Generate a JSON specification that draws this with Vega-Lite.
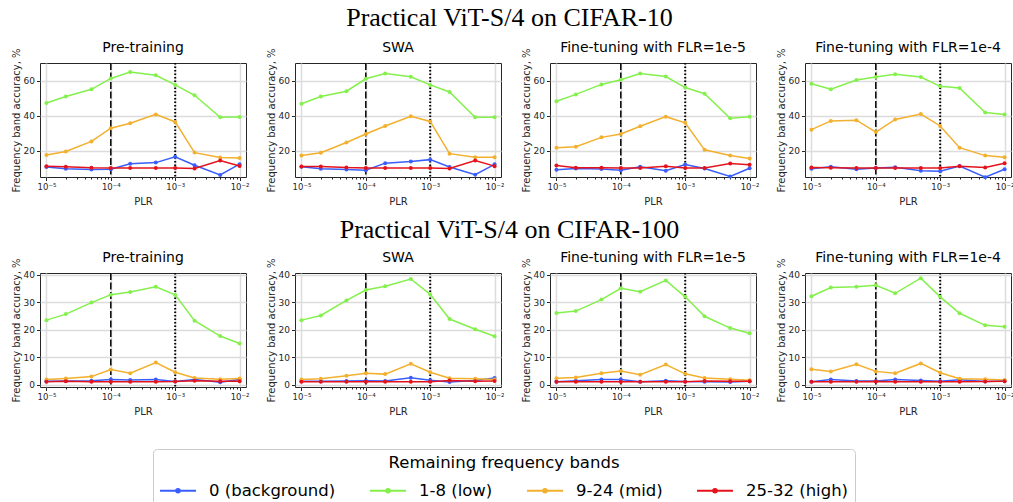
{
"$schema":"https://vega.github.io/schema/vega-lite/v6.json",
"padding":{"left":10,"top":4,"right":0,"bottom":5},
"datasets":{
"c10pre":[
{"x":0.00001,"b":"0 (background)","y":10.7},{"x":0.00002,"b":"0 (background)","y":9.7},{"x":0.00005,"b":"0 (background)","y":9.3},{"x":0.0001,"b":"0 (background)","y":9.4},{"x":0.0002,"b":"0 (background)","y":12.5},{"x":0.0005,"b":"0 (background)","y":13.2},{"x":0.001,"b":"0 (background)","y":16.5},{"x":0.002,"b":"0 (background)","y":11.7},{"x":0.005,"b":"0 (background)","y":6.2},{"x":0.01,"b":"0 (background)","y":12.3},
{"x":0.00001,"b":"1-8 (low)","y":47.2},{"x":0.00002,"b":"1-8 (low)","y":50.9},{"x":0.00005,"b":"1-8 (low)","y":55.0},{"x":0.0001,"b":"1-8 (low)","y":61.2},{"x":0.0002,"b":"1-8 (low)","y":64.9},{"x":0.0005,"b":"1-8 (low)","y":63.0},{"x":0.001,"b":"1-8 (low)","y":57.5},{"x":0.002,"b":"1-8 (low)","y":51.6},{"x":0.005,"b":"1-8 (low)","y":39.0},{"x":0.01,"b":"1-8 (low)","y":39.2},
{"x":0.00001,"b":"9-24 (mid)","y":17.5},{"x":0.00002,"b":"9-24 (mid)","y":19.5},{"x":0.00005,"b":"9-24 (mid)","y":25.3},{"x":0.0001,"b":"9-24 (mid)","y":32.8},{"x":0.0002,"b":"9-24 (mid)","y":35.7},{"x":0.0005,"b":"9-24 (mid)","y":40.7},{"x":0.001,"b":"9-24 (mid)","y":36.4},{"x":0.002,"b":"9-24 (mid)","y":18.9},{"x":0.005,"b":"9-24 (mid)","y":16.1},{"x":0.01,"b":"9-24 (mid)","y":15.9},
{"x":0.00001,"b":"25-32 (high)","y":11.1},{"x":0.00002,"b":"25-32 (high)","y":10.8},{"x":0.00005,"b":"25-32 (high)","y":10.3},{"x":0.0001,"b":"25-32 (high)","y":10.2},{"x":0.0002,"b":"25-32 (high)","y":10.2},{"x":0.0005,"b":"25-32 (high)","y":10.2},{"x":0.001,"b":"25-32 (high)","y":10.2},{"x":0.002,"b":"25-32 (high)","y":9.8},{"x":0.005,"b":"25-32 (high)","y":14.4},{"x":0.01,"b":"25-32 (high)","y":11.3}],
"c10swa":[
{"x":0.00001,"b":"0 (background)","y":10.8},{"x":0.00002,"b":"0 (background)","y":9.7},{"x":0.00005,"b":"0 (background)","y":9.3},{"x":0.0001,"b":"0 (background)","y":8.9},{"x":0.0002,"b":"0 (background)","y":12.9},{"x":0.0005,"b":"0 (background)","y":13.9},{"x":0.001,"b":"0 (background)","y":14.9},{"x":0.002,"b":"0 (background)","y":10.7},{"x":0.005,"b":"0 (background)","y":6.3},{"x":0.01,"b":"0 (background)","y":12.2},
{"x":0.00001,"b":"1-8 (low)","y":46.8},{"x":0.00002,"b":"1-8 (low)","y":50.9},{"x":0.00005,"b":"1-8 (low)","y":53.9},{"x":0.0001,"b":"1-8 (low)","y":61.0},{"x":0.0002,"b":"1-8 (low)","y":64.0},{"x":0.0005,"b":"1-8 (low)","y":62.1},{"x":0.001,"b":"1-8 (low)","y":57.5},{"x":0.002,"b":"1-8 (low)","y":53.5},{"x":0.005,"b":"1-8 (low)","y":39.1},{"x":0.01,"b":"1-8 (low)","y":39.1},
{"x":0.00001,"b":"9-24 (mid)","y":17.3},{"x":0.00002,"b":"9-24 (mid)","y":18.8},{"x":0.00005,"b":"9-24 (mid)","y":24.7},{"x":0.0001,"b":"9-24 (mid)","y":29.5},{"x":0.0002,"b":"9-24 (mid)","y":34.1},{"x":0.0005,"b":"9-24 (mid)","y":39.6},{"x":0.001,"b":"9-24 (mid)","y":36.7},{"x":0.002,"b":"9-24 (mid)","y":18.3},{"x":0.005,"b":"9-24 (mid)","y":16.3},{"x":0.01,"b":"9-24 (mid)","y":16.2},
{"x":0.00001,"b":"25-32 (high)","y":11.0},{"x":0.00002,"b":"25-32 (high)","y":11.0},{"x":0.00005,"b":"25-32 (high)","y":10.4},{"x":0.0001,"b":"25-32 (high)","y":10.2},{"x":0.0002,"b":"25-32 (high)","y":10.2},{"x":0.0005,"b":"25-32 (high)","y":10.2},{"x":0.001,"b":"25-32 (high)","y":10.2},{"x":0.002,"b":"25-32 (high)","y":9.9},{"x":0.005,"b":"25-32 (high)","y":14.4},{"x":0.01,"b":"25-32 (high)","y":11.2}],
"c10f5":[
{"x":0.00001,"b":"0 (background)","y":9.1},{"x":0.00002,"b":"0 (background)","y":9.8},{"x":0.00005,"b":"0 (background)","y":9.6},{"x":0.0001,"b":"0 (background)","y":8.9},{"x":0.0002,"b":"0 (background)","y":10.9},{"x":0.0005,"b":"0 (background)","y":8.6},{"x":0.001,"b":"0 (background)","y":12.1},{"x":0.002,"b":"0 (background)","y":9.8},{"x":0.005,"b":"0 (background)","y":5.3},{"x":0.01,"b":"0 (background)","y":10.0},
{"x":0.00001,"b":"1-8 (low)","y":48.2},{"x":0.00002,"b":"1-8 (low)","y":52.1},{"x":0.00005,"b":"1-8 (low)","y":57.8},{"x":0.0001,"b":"1-8 (low)","y":60.4},{"x":0.0002,"b":"1-8 (low)","y":64.0},{"x":0.0005,"b":"1-8 (low)","y":62.3},{"x":0.001,"b":"1-8 (low)","y":56.0},{"x":0.002,"b":"1-8 (low)","y":52.5},{"x":0.005,"b":"1-8 (low)","y":38.5},{"x":0.01,"b":"1-8 (low)","y":39.4},
{"x":0.00001,"b":"9-24 (mid)","y":21.7},{"x":0.00002,"b":"9-24 (mid)","y":22.3},{"x":0.00005,"b":"9-24 (mid)","y":27.6},{"x":0.0001,"b":"9-24 (mid)","y":29.5},{"x":0.0002,"b":"9-24 (mid)","y":33.9},{"x":0.0005,"b":"9-24 (mid)","y":39.4},{"x":0.001,"b":"9-24 (mid)","y":35.9},{"x":0.002,"b":"9-24 (mid)","y":20.5},{"x":0.005,"b":"9-24 (mid)","y":17.2},{"x":0.01,"b":"9-24 (mid)","y":15.6},
{"x":0.00001,"b":"25-32 (high)","y":11.5},{"x":0.00002,"b":"25-32 (high)","y":10.3},{"x":0.00005,"b":"25-32 (high)","y":10.3},{"x":0.0001,"b":"25-32 (high)","y":10.2},{"x":0.0002,"b":"25-32 (high)","y":10.2},{"x":0.0005,"b":"25-32 (high)","y":11.1},{"x":0.001,"b":"25-32 (high)","y":10.2},{"x":0.002,"b":"25-32 (high)","y":10.1},{"x":0.005,"b":"25-32 (high)","y":12.7},{"x":0.01,"b":"25-32 (high)","y":12.0}],
"c10f4":[
{"x":0.00001,"b":"0 (background)","y":9.7},{"x":0.00002,"b":"0 (background)","y":10.8},{"x":0.00005,"b":"0 (background)","y":9.4},{"x":0.0001,"b":"0 (background)","y":10.2},{"x":0.0002,"b":"0 (background)","y":10.6},{"x":0.0005,"b":"0 (background)","y":8.5},{"x":0.001,"b":"0 (background)","y":8.3},{"x":0.002,"b":"0 (background)","y":11.3},{"x":0.005,"b":"0 (background)","y":4.9},{"x":0.01,"b":"0 (background)","y":9.4},
{"x":0.00001,"b":"1-8 (low)","y":58.2},{"x":0.00002,"b":"1-8 (low)","y":55.0},{"x":0.00005,"b":"1-8 (low)","y":60.3},{"x":0.0001,"b":"1-8 (low)","y":62.0},{"x":0.0002,"b":"1-8 (low)","y":63.6},{"x":0.0005,"b":"1-8 (low)","y":62.0},{"x":0.001,"b":"1-8 (low)","y":56.7},{"x":0.002,"b":"1-8 (low)","y":55.7},{"x":0.005,"b":"1-8 (low)","y":41.8},{"x":0.01,"b":"1-8 (low)","y":40.6},
{"x":0.00001,"b":"9-24 (mid)","y":32.0},{"x":0.00002,"b":"9-24 (mid)","y":37.0},{"x":0.00005,"b":"9-24 (mid)","y":37.4},{"x":0.0001,"b":"9-24 (mid)","y":30.6},{"x":0.0002,"b":"9-24 (mid)","y":37.8},{"x":0.0005,"b":"9-24 (mid)","y":40.9},{"x":0.001,"b":"9-24 (mid)","y":34.1},{"x":0.002,"b":"9-24 (mid)","y":21.7},{"x":0.005,"b":"9-24 (mid)","y":17.2},{"x":0.01,"b":"9-24 (mid)","y":16.3},
{"x":0.00001,"b":"25-32 (high)","y":10.4},{"x":0.00002,"b":"25-32 (high)","y":10.3},{"x":0.00005,"b":"25-32 (high)","y":10.2},{"x":0.0001,"b":"25-32 (high)","y":10.2},{"x":0.0002,"b":"25-32 (high)","y":10.2},{"x":0.0005,"b":"25-32 (high)","y":10.1},{"x":0.001,"b":"25-32 (high)","y":10.1},{"x":0.002,"b":"25-32 (high)","y":11.1},{"x":0.005,"b":"25-32 (high)","y":10.4},{"x":0.01,"b":"25-32 (high)","y":12.9}],
"c100pre":[
{"x":0.00001,"b":"0 (background)","y":1.2},{"x":0.00002,"b":"0 (background)","y":1.3},{"x":0.00005,"b":"0 (background)","y":1.4},{"x":0.0001,"b":"0 (background)","y":1.8},{"x":0.0002,"b":"0 (background)","y":1.7},{"x":0.0005,"b":"0 (background)","y":1.8},{"x":0.001,"b":"0 (background)","y":1.1},{"x":0.002,"b":"0 (background)","y":1.8},{"x":0.005,"b":"0 (background)","y":0.8},{"x":0.01,"b":"0 (background)","y":1.8},
{"x":0.00001,"b":"1-8 (low)","y":23.5},{"x":0.00002,"b":"1-8 (low)","y":25.7},{"x":0.00005,"b":"1-8 (low)","y":29.9},{"x":0.0001,"b":"1-8 (low)","y":32.8},{"x":0.0002,"b":"1-8 (low)","y":33.8},{"x":0.0005,"b":"1-8 (low)","y":35.7},{"x":0.001,"b":"1-8 (low)","y":32.7},{"x":0.002,"b":"1-8 (low)","y":23.3},{"x":0.005,"b":"1-8 (low)","y":17.7},{"x":0.01,"b":"1-8 (low)","y":15.0},
{"x":0.00001,"b":"9-24 (mid)","y":1.8},{"x":0.00002,"b":"9-24 (mid)","y":2.2},{"x":0.00005,"b":"9-24 (mid)","y":2.9},{"x":0.0001,"b":"9-24 (mid)","y":5.5},{"x":0.0002,"b":"9-24 (mid)","y":4.1},{"x":0.0005,"b":"9-24 (mid)","y":8.0},{"x":0.001,"b":"9-24 (mid)","y":4.5},{"x":0.002,"b":"9-24 (mid)","y":2.4},{"x":0.005,"b":"9-24 (mid)","y":1.9},{"x":0.01,"b":"9-24 (mid)","y":2.2},
{"x":0.00001,"b":"25-32 (high)","y":1.0},{"x":0.00002,"b":"25-32 (high)","y":1.2},{"x":0.00005,"b":"25-32 (high)","y":1.0},{"x":0.0001,"b":"25-32 (high)","y":1.0},{"x":0.0002,"b":"25-32 (high)","y":1.0},{"x":0.0005,"b":"25-32 (high)","y":1.0},{"x":0.001,"b":"25-32 (high)","y":1.1},{"x":0.002,"b":"25-32 (high)","y":1.4},{"x":0.005,"b":"25-32 (high)","y":1.2},{"x":0.01,"b":"25-32 (high)","y":1.2}],
"c100swa":[
{"x":0.00001,"b":"0 (background)","y":1.2},{"x":0.00002,"b":"0 (background)","y":1.2},{"x":0.00005,"b":"0 (background)","y":1.3},{"x":0.0001,"b":"0 (background)","y":1.4},{"x":0.0002,"b":"0 (background)","y":1.3},{"x":0.0005,"b":"0 (background)","y":2.5},{"x":0.001,"b":"0 (background)","y":1.6},{"x":0.002,"b":"0 (background)","y":0.9},{"x":0.005,"b":"0 (background)","y":1.5},{"x":0.01,"b":"0 (background)","y":2.4},
{"x":0.00001,"b":"1-8 (low)","y":23.5},{"x":0.00002,"b":"1-8 (low)","y":25.2},{"x":0.00005,"b":"1-8 (low)","y":30.7},{"x":0.0001,"b":"1-8 (low)","y":34.5},{"x":0.0002,"b":"1-8 (low)","y":35.9},{"x":0.0005,"b":"1-8 (low)","y":38.5},{"x":0.001,"b":"1-8 (low)","y":32.9},{"x":0.002,"b":"1-8 (low)","y":23.9},{"x":0.005,"b":"1-8 (low)","y":20.2},{"x":0.01,"b":"1-8 (low)","y":17.6},
{"x":0.00001,"b":"9-24 (mid)","y":1.8},{"x":0.00002,"b":"9-24 (mid)","y":2.1},{"x":0.00005,"b":"9-24 (mid)","y":3.2},{"x":0.0001,"b":"9-24 (mid)","y":4.1},{"x":0.0002,"b":"9-24 (mid)","y":3.8},{"x":0.0005,"b":"9-24 (mid)","y":7.6},{"x":0.001,"b":"9-24 (mid)","y":4.5},{"x":0.002,"b":"9-24 (mid)","y":2.3},{"x":0.005,"b":"9-24 (mid)","y":2.1},{"x":0.01,"b":"9-24 (mid)","y":1.8},
{"x":0.00001,"b":"25-32 (high)","y":1.0},{"x":0.00002,"b":"25-32 (high)","y":1.0},{"x":0.00005,"b":"25-32 (high)","y":1.0},{"x":0.0001,"b":"25-32 (high)","y":1.0},{"x":0.0002,"b":"25-32 (high)","y":1.0},{"x":0.0005,"b":"25-32 (high)","y":1.0},{"x":0.001,"b":"25-32 (high)","y":1.0},{"x":0.002,"b":"25-32 (high)","y":1.5},{"x":0.005,"b":"25-32 (high)","y":1.2},{"x":0.01,"b":"25-32 (high)","y":1.3}],
"c100f5":[
{"x":0.00001,"b":"0 (background)","y":1.0},{"x":0.00002,"b":"0 (background)","y":1.4},{"x":0.00005,"b":"0 (background)","y":1.8},{"x":0.0001,"b":"0 (background)","y":1.8},{"x":0.0002,"b":"0 (background)","y":1.0},{"x":0.0005,"b":"0 (background)","y":1.4},{"x":0.001,"b":"0 (background)","y":1.1},{"x":0.002,"b":"0 (background)","y":1.0},{"x":0.005,"b":"0 (background)","y":0.9},{"x":0.01,"b":"0 (background)","y":1.2},
{"x":0.00001,"b":"1-8 (low)","y":26.1},{"x":0.00002,"b":"1-8 (low)","y":26.8},{"x":0.00005,"b":"1-8 (low)","y":31.0},{"x":0.0001,"b":"1-8 (low)","y":35.1},{"x":0.0002,"b":"1-8 (low)","y":33.9},{"x":0.0005,"b":"1-8 (low)","y":38.0},{"x":0.001,"b":"1-8 (low)","y":32.0},{"x":0.002,"b":"1-8 (low)","y":24.9},{"x":0.005,"b":"1-8 (low)","y":20.6},{"x":0.01,"b":"1-8 (low)","y":18.7},
{"x":0.00001,"b":"9-24 (mid)","y":2.3},{"x":0.00002,"b":"9-24 (mid)","y":2.6},{"x":0.00005,"b":"9-24 (mid)","y":4.1},{"x":0.0001,"b":"9-24 (mid)","y":4.9},{"x":0.0002,"b":"9-24 (mid)","y":3.6},{"x":0.0005,"b":"9-24 (mid)","y":7.3},{"x":0.001,"b":"9-24 (mid)","y":3.9},{"x":0.002,"b":"9-24 (mid)","y":2.4},{"x":0.005,"b":"9-24 (mid)","y":1.9},{"x":0.01,"b":"9-24 (mid)","y":1.6},
{"x":0.00001,"b":"25-32 (high)","y":1.0},{"x":0.00002,"b":"25-32 (high)","y":1.0},{"x":0.00005,"b":"25-32 (high)","y":1.0},{"x":0.0001,"b":"25-32 (high)","y":1.0},{"x":0.0002,"b":"25-32 (high)","y":1.0},{"x":0.0005,"b":"25-32 (high)","y":1.0},{"x":0.001,"b":"25-32 (high)","y":1.0},{"x":0.002,"b":"25-32 (high)","y":1.3},{"x":0.005,"b":"25-32 (high)","y":1.2},{"x":0.01,"b":"25-32 (high)","y":1.2}],
"c100f4":[
{"x":0.00001,"b":"0 (background)","y":1.0},{"x":0.00002,"b":"0 (background)","y":1.8},{"x":0.00005,"b":"0 (background)","y":1.3},{"x":0.0001,"b":"0 (background)","y":1.3},{"x":0.0002,"b":"0 (background)","y":1.8},{"x":0.0005,"b":"0 (background)","y":1.5},{"x":0.001,"b":"0 (background)","y":1.2},{"x":0.002,"b":"0 (background)","y":1.7},{"x":0.005,"b":"0 (background)","y":1.1},{"x":0.01,"b":"0 (background)","y":1.3},
{"x":0.00001,"b":"1-8 (low)","y":32.2},{"x":0.00002,"b":"1-8 (low)","y":35.4},{"x":0.00005,"b":"1-8 (low)","y":35.7},{"x":0.0001,"b":"1-8 (low)","y":36.2},{"x":0.0002,"b":"1-8 (low)","y":33.3},{"x":0.0005,"b":"1-8 (low)","y":38.8},{"x":0.001,"b":"1-8 (low)","y":32.0},{"x":0.002,"b":"1-8 (low)","y":26.0},{"x":0.005,"b":"1-8 (low)","y":21.6},{"x":0.01,"b":"1-8 (low)","y":21.1},
{"x":0.00001,"b":"9-24 (mid)","y":5.6},{"x":0.00002,"b":"9-24 (mid)","y":4.8},{"x":0.00005,"b":"9-24 (mid)","y":7.4},{"x":0.0001,"b":"9-24 (mid)","y":4.8},{"x":0.0002,"b":"9-24 (mid)","y":4.1},{"x":0.0005,"b":"9-24 (mid)","y":7.7},{"x":0.001,"b":"9-24 (mid)","y":4.3},{"x":0.002,"b":"9-24 (mid)","y":2.1},{"x":0.005,"b":"9-24 (mid)","y":1.9},{"x":0.01,"b":"9-24 (mid)","y":1.7},
{"x":0.00001,"b":"25-32 (high)","y":1.0},{"x":0.00002,"b":"25-32 (high)","y":1.0},{"x":0.00005,"b":"25-32 (high)","y":1.0},{"x":0.0001,"b":"25-32 (high)","y":1.1},{"x":0.0002,"b":"25-32 (high)","y":1.0},{"x":0.0005,"b":"25-32 (high)","y":1.0},{"x":0.001,"b":"25-32 (high)","y":1.0},{"x":0.002,"b":"25-32 (high)","y":1.0},{"x":0.005,"b":"25-32 (high)","y":1.1},{"x":0.01,"b":"25-32 (high)","y":1.2}]
},
"spacing":9,
"vconcat":[
{"title":{"text":"Practical ViT-S/4 on CIFAR-10","font":"Liberation Serif","fontSize":26,"anchor":"middle","frame":"bounds","dx":-3,"offset":10},
"bounds":"flush","spacing":49,
"hconcat":[
{"width":206,"height":114,"title":"Pre-training","layer":[
{"data":{"values":[{"x":0.0001}]},"mark":{"type":"rule","color":"black","strokeWidth":1.5,"strokeDash":[7,2.5]},"encoding":{"x":{"field":"x","type":"quantitative","scale":{"type":"log","domain":[0.00000794,0.01259],"nice":false}}}},
{"data":{"values":[{"x":0.001}]},"mark":{"type":"rule","color":"black","strokeWidth":2,"strokeDash":[1.5,2]},"encoding":{"x":{"field":"x","type":"quantitative","scale":{"type":"log","domain":[0.00000794,0.01259],"nice":false}}}},
{"data":{"name":"c10pre"},"mark":{"type":"line","strokeWidth":1.5,"point":{"filled":true,"size":16}},"encoding":{
"x":{"field":"x","type":"quantitative","scale":{"type":"log","domain":[0.00000794,0.01259],"nice":false},"axis":{"title":"PLR","titlePadding":5,"values":[0.00001,0.00002,0.00003,0.00004,0.00005,0.00006,0.00007,0.00008,0.00009,0.0001,0.0002,0.0003,0.0004,0.0005,0.0006,0.0007,0.0008,0.0009,0.001,0.002,0.003,0.004,0.005,0.006,0.007,0.008,0.009,0.01],"labelOverlap":false,"labelFlush":false,"labelExpr":"abs(log(datum.value)/LN10-round(log(datum.value)/LN10))<0.01 ? '10'+(round(log(datum.value)/LN10)==-5?'⁻⁵':round(log(datum.value)/LN10)==-4?'⁻⁴':round(log(datum.value)/LN10)==-3?'⁻³':'⁻²') : ''","tickSize":{"condition":{"test":"abs(log(datum.value)/LN10-round(log(datum.value)/LN10))<0.01","value":3.5},"value":2},"gridOpacity":{"condition":{"test":"abs(log(datum.value)/LN10-round(log(datum.value)/LN10))<0.01","value":1},"value":0}}},
"y":{"field":"y","type":"quantitative","scale":{"domain":[5,70],"nice":false,"zero":false},"axis":{"title":"Frequency band accuracy, %","values":[20,40,60]}},
"color":{"field":"b","type":"nominal","title":"Remaining frequency bands","scale":{"domain":["0 (background)","1-8 (low)","9-24 (mid)","25-32 (high)"],"range":["#3a5efc","#84f04c","#f2b02e","#e4131b"]},"legend":{"legendX":113,"legendY":386,"symbolType":"M-1,0H1M0.1,0A0.1,0.1,0,1,1,-0.1,0A0.1,0.1,0,1,1,0.1,0M0.045,0A0.045,0.045,0,1,1,-0.045,0A0.045,0.045,0,1,1,0.045,0"}}}}]},
{"width":206,"height":114,"title":"SWA","layer":[
{"data":{"values":[{"x":0.0001}]},"mark":{"type":"rule","color":"black","strokeWidth":1.5,"strokeDash":[7,2.5]},"encoding":{"x":{"field":"x","type":"quantitative","scale":{"type":"log","domain":[0.00000794,0.01259],"nice":false}}}},
{"data":{"values":[{"x":0.001}]},"mark":{"type":"rule","color":"black","strokeWidth":2,"strokeDash":[1.5,2]},"encoding":{"x":{"field":"x","type":"quantitative","scale":{"type":"log","domain":[0.00000794,0.01259],"nice":false}}}},
{"data":{"name":"c10swa"},"mark":{"type":"line","strokeWidth":1.5,"point":{"filled":true,"size":16}},"encoding":{
"x":{"field":"x","type":"quantitative","scale":{"type":"log","domain":[0.00000794,0.01259],"nice":false},"axis":{"title":"PLR","titlePadding":5,"values":[0.00001,0.00002,0.00003,0.00004,0.00005,0.00006,0.00007,0.00008,0.00009,0.0001,0.0002,0.0003,0.0004,0.0005,0.0006,0.0007,0.0008,0.0009,0.001,0.002,0.003,0.004,0.005,0.006,0.007,0.008,0.009,0.01],"labelOverlap":false,"labelFlush":false,"labelExpr":"abs(log(datum.value)/LN10-round(log(datum.value)/LN10))<0.01 ? '10'+(round(log(datum.value)/LN10)==-5?'⁻⁵':round(log(datum.value)/LN10)==-4?'⁻⁴':round(log(datum.value)/LN10)==-3?'⁻³':'⁻²') : ''","tickSize":{"condition":{"test":"abs(log(datum.value)/LN10-round(log(datum.value)/LN10))<0.01","value":3.5},"value":2},"gridOpacity":{"condition":{"test":"abs(log(datum.value)/LN10-round(log(datum.value)/LN10))<0.01","value":1},"value":0}}},
"y":{"field":"y","type":"quantitative","scale":{"domain":[5,70],"nice":false,"zero":false},"axis":{"title":"Frequency band accuracy, %","values":[20,40,60]}},
"color":{"field":"b","type":"nominal","title":"Remaining frequency bands","scale":{"domain":["0 (background)","1-8 (low)","9-24 (mid)","25-32 (high)"],"range":["#3a5efc","#84f04c","#f2b02e","#e4131b"]},"legend":{"legendX":113,"legendY":386,"symbolType":"M-1,0H1M0.1,0A0.1,0.1,0,1,1,-0.1,0A0.1,0.1,0,1,1,0.1,0M0.045,0A0.045,0.045,0,1,1,-0.045,0A0.045,0.045,0,1,1,0.045,0"}}}}]},
{"width":206,"height":114,"title":"Fine-tuning with FLR=1e-5","layer":[
{"data":{"values":[{"x":0.0001}]},"mark":{"type":"rule","color":"black","strokeWidth":1.5,"strokeDash":[7,2.5]},"encoding":{"x":{"field":"x","type":"quantitative","scale":{"type":"log","domain":[0.00000794,0.01259],"nice":false}}}},
{"data":{"values":[{"x":0.001}]},"mark":{"type":"rule","color":"black","strokeWidth":2,"strokeDash":[1.5,2]},"encoding":{"x":{"field":"x","type":"quantitative","scale":{"type":"log","domain":[0.00000794,0.01259],"nice":false}}}},
{"data":{"name":"c10f5"},"mark":{"type":"line","strokeWidth":1.5,"point":{"filled":true,"size":16}},"encoding":{
"x":{"field":"x","type":"quantitative","scale":{"type":"log","domain":[0.00000794,0.01259],"nice":false},"axis":{"title":"PLR","titlePadding":5,"values":[0.00001,0.00002,0.00003,0.00004,0.00005,0.00006,0.00007,0.00008,0.00009,0.0001,0.0002,0.0003,0.0004,0.0005,0.0006,0.0007,0.0008,0.0009,0.001,0.002,0.003,0.004,0.005,0.006,0.007,0.008,0.009,0.01],"labelOverlap":false,"labelFlush":false,"labelExpr":"abs(log(datum.value)/LN10-round(log(datum.value)/LN10))<0.01 ? '10'+(round(log(datum.value)/LN10)==-5?'⁻⁵':round(log(datum.value)/LN10)==-4?'⁻⁴':round(log(datum.value)/LN10)==-3?'⁻³':'⁻²') : ''","tickSize":{"condition":{"test":"abs(log(datum.value)/LN10-round(log(datum.value)/LN10))<0.01","value":3.5},"value":2},"gridOpacity":{"condition":{"test":"abs(log(datum.value)/LN10-round(log(datum.value)/LN10))<0.01","value":1},"value":0}}},
"y":{"field":"y","type":"quantitative","scale":{"domain":[5,70],"nice":false,"zero":false},"axis":{"title":"Frequency band accuracy, %","values":[20,40,60]}},
"color":{"field":"b","type":"nominal","title":"Remaining frequency bands","scale":{"domain":["0 (background)","1-8 (low)","9-24 (mid)","25-32 (high)"],"range":["#3a5efc","#84f04c","#f2b02e","#e4131b"]},"legend":{"legendX":113,"legendY":386,"symbolType":"M-1,0H1M0.1,0A0.1,0.1,0,1,1,-0.1,0A0.1,0.1,0,1,1,0.1,0M0.045,0A0.045,0.045,0,1,1,-0.045,0A0.045,0.045,0,1,1,0.045,0"}}}}]},
{"width":206,"height":114,"title":"Fine-tuning with FLR=1e-4","layer":[
{"data":{"values":[{"x":0.0001}]},"mark":{"type":"rule","color":"black","strokeWidth":1.5,"strokeDash":[7,2.5]},"encoding":{"x":{"field":"x","type":"quantitative","scale":{"type":"log","domain":[0.00000794,0.01259],"nice":false}}}},
{"data":{"values":[{"x":0.001}]},"mark":{"type":"rule","color":"black","strokeWidth":2,"strokeDash":[1.5,2]},"encoding":{"x":{"field":"x","type":"quantitative","scale":{"type":"log","domain":[0.00000794,0.01259],"nice":false}}}},
{"data":{"name":"c10f4"},"mark":{"type":"line","strokeWidth":1.5,"point":{"filled":true,"size":16}},"encoding":{
"x":{"field":"x","type":"quantitative","scale":{"type":"log","domain":[0.00000794,0.01259],"nice":false},"axis":{"title":"PLR","titlePadding":5,"values":[0.00001,0.00002,0.00003,0.00004,0.00005,0.00006,0.00007,0.00008,0.00009,0.0001,0.0002,0.0003,0.0004,0.0005,0.0006,0.0007,0.0008,0.0009,0.001,0.002,0.003,0.004,0.005,0.006,0.007,0.008,0.009,0.01],"labelOverlap":false,"labelFlush":false,"labelExpr":"abs(log(datum.value)/LN10-round(log(datum.value)/LN10))<0.01 ? '10'+(round(log(datum.value)/LN10)==-5?'⁻⁵':round(log(datum.value)/LN10)==-4?'⁻⁴':round(log(datum.value)/LN10)==-3?'⁻³':'⁻²') : ''","tickSize":{"condition":{"test":"abs(log(datum.value)/LN10-round(log(datum.value)/LN10))<0.01","value":3.5},"value":2},"gridOpacity":{"condition":{"test":"abs(log(datum.value)/LN10-round(log(datum.value)/LN10))<0.01","value":1},"value":0}}},
"y":{"field":"y","type":"quantitative","scale":{"domain":[5,70],"nice":false,"zero":false},"axis":{"title":"Frequency band accuracy, %","values":[20,40,60]}},
"color":{"field":"b","type":"nominal","title":"Remaining frequency bands","scale":{"domain":["0 (background)","1-8 (low)","9-24 (mid)","25-32 (high)"],"range":["#3a5efc","#84f04c","#f2b02e","#e4131b"]},"legend":{"legendX":113,"legendY":386,"symbolType":"M-1,0H1M0.1,0A0.1,0.1,0,1,1,-0.1,0A0.1,0.1,0,1,1,0.1,0M0.045,0A0.045,0.045,0,1,1,-0.045,0A0.045,0.045,0,1,1,0.045,0"}}}}]}
]},
{"title":{"text":"Practical ViT-S/4 on CIFAR-100","font":"Liberation Serif","fontSize":26,"anchor":"middle","frame":"bounds","dx":-3,"offset":8},
"bounds":"flush","spacing":49,
"hconcat":[
{"width":206,"height":114,"title":"Pre-training","layer":[
{"data":{"values":[{"x":0.0001}]},"mark":{"type":"rule","color":"black","strokeWidth":1.5,"strokeDash":[7,2.5]},"encoding":{"x":{"field":"x","type":"quantitative","scale":{"type":"log","domain":[0.00000794,0.01259],"nice":false}}}},
{"data":{"values":[{"x":0.001}]},"mark":{"type":"rule","color":"black","strokeWidth":2,"strokeDash":[1.5,2]},"encoding":{"x":{"field":"x","type":"quantitative","scale":{"type":"log","domain":[0.00000794,0.01259],"nice":false}}}},
{"data":{"name":"c100pre"},"mark":{"type":"line","strokeWidth":1.5,"point":{"filled":true,"size":16}},"encoding":{
"x":{"field":"x","type":"quantitative","scale":{"type":"log","domain":[0.00000794,0.01259],"nice":false},"axis":{"title":"PLR","titlePadding":5,"values":[0.00001,0.00002,0.00003,0.00004,0.00005,0.00006,0.00007,0.00008,0.00009,0.0001,0.0002,0.0003,0.0004,0.0005,0.0006,0.0007,0.0008,0.0009,0.001,0.002,0.003,0.004,0.005,0.006,0.007,0.008,0.009,0.01],"labelOverlap":false,"labelFlush":false,"labelExpr":"abs(log(datum.value)/LN10-round(log(datum.value)/LN10))<0.01 ? '10'+(round(log(datum.value)/LN10)==-5?'⁻⁵':round(log(datum.value)/LN10)==-4?'⁻⁴':round(log(datum.value)/LN10)==-3?'⁻³':'⁻²') : ''","tickSize":{"condition":{"test":"abs(log(datum.value)/LN10-round(log(datum.value)/LN10))<0.01","value":3.5},"value":2},"gridOpacity":{"condition":{"test":"abs(log(datum.value)/LN10-round(log(datum.value)/LN10))<0.01","value":1},"value":0}}},
"y":{"field":"y","type":"quantitative","scale":{"domain":[-0.9,40.7],"nice":false,"zero":false},"axis":{"title":"Frequency band accuracy, %","values":[0,10,20,30,40]}},
"color":{"field":"b","type":"nominal","title":"Remaining frequency bands","scale":{"domain":["0 (background)","1-8 (low)","9-24 (mid)","25-32 (high)"],"range":["#3a5efc","#84f04c","#f2b02e","#e4131b"]},"legend":{"legendX":113,"legendY":386,"symbolType":"M-1,0H1M0.1,0A0.1,0.1,0,1,1,-0.1,0A0.1,0.1,0,1,1,0.1,0M0.045,0A0.045,0.045,0,1,1,-0.045,0A0.045,0.045,0,1,1,0.045,0"}}}}]},
{"width":206,"height":114,"title":"SWA","layer":[
{"data":{"values":[{"x":0.0001}]},"mark":{"type":"rule","color":"black","strokeWidth":1.5,"strokeDash":[7,2.5]},"encoding":{"x":{"field":"x","type":"quantitative","scale":{"type":"log","domain":[0.00000794,0.01259],"nice":false}}}},
{"data":{"values":[{"x":0.001}]},"mark":{"type":"rule","color":"black","strokeWidth":2,"strokeDash":[1.5,2]},"encoding":{"x":{"field":"x","type":"quantitative","scale":{"type":"log","domain":[0.00000794,0.01259],"nice":false}}}},
{"data":{"name":"c100swa"},"mark":{"type":"line","strokeWidth":1.5,"point":{"filled":true,"size":16}},"encoding":{
"x":{"field":"x","type":"quantitative","scale":{"type":"log","domain":[0.00000794,0.01259],"nice":false},"axis":{"title":"PLR","titlePadding":5,"values":[0.00001,0.00002,0.00003,0.00004,0.00005,0.00006,0.00007,0.00008,0.00009,0.0001,0.0002,0.0003,0.0004,0.0005,0.0006,0.0007,0.0008,0.0009,0.001,0.002,0.003,0.004,0.005,0.006,0.007,0.008,0.009,0.01],"labelOverlap":false,"labelFlush":false,"labelExpr":"abs(log(datum.value)/LN10-round(log(datum.value)/LN10))<0.01 ? '10'+(round(log(datum.value)/LN10)==-5?'⁻⁵':round(log(datum.value)/LN10)==-4?'⁻⁴':round(log(datum.value)/LN10)==-3?'⁻³':'⁻²') : ''","tickSize":{"condition":{"test":"abs(log(datum.value)/LN10-round(log(datum.value)/LN10))<0.01","value":3.5},"value":2},"gridOpacity":{"condition":{"test":"abs(log(datum.value)/LN10-round(log(datum.value)/LN10))<0.01","value":1},"value":0}}},
"y":{"field":"y","type":"quantitative","scale":{"domain":[-0.9,40.7],"nice":false,"zero":false},"axis":{"title":"Frequency band accuracy, %","values":[0,10,20,30,40]}},
"color":{"field":"b","type":"nominal","title":"Remaining frequency bands","scale":{"domain":["0 (background)","1-8 (low)","9-24 (mid)","25-32 (high)"],"range":["#3a5efc","#84f04c","#f2b02e","#e4131b"]},"legend":{"legendX":113,"legendY":386,"symbolType":"M-1,0H1M0.1,0A0.1,0.1,0,1,1,-0.1,0A0.1,0.1,0,1,1,0.1,0M0.045,0A0.045,0.045,0,1,1,-0.045,0A0.045,0.045,0,1,1,0.045,0"}}}}]},
{"width":206,"height":114,"title":"Fine-tuning with FLR=1e-5","layer":[
{"data":{"values":[{"x":0.0001}]},"mark":{"type":"rule","color":"black","strokeWidth":1.5,"strokeDash":[7,2.5]},"encoding":{"x":{"field":"x","type":"quantitative","scale":{"type":"log","domain":[0.00000794,0.01259],"nice":false}}}},
{"data":{"values":[{"x":0.001}]},"mark":{"type":"rule","color":"black","strokeWidth":2,"strokeDash":[1.5,2]},"encoding":{"x":{"field":"x","type":"quantitative","scale":{"type":"log","domain":[0.00000794,0.01259],"nice":false}}}},
{"data":{"name":"c100f5"},"mark":{"type":"line","strokeWidth":1.5,"point":{"filled":true,"size":16}},"encoding":{
"x":{"field":"x","type":"quantitative","scale":{"type":"log","domain":[0.00000794,0.01259],"nice":false},"axis":{"title":"PLR","titlePadding":5,"values":[0.00001,0.00002,0.00003,0.00004,0.00005,0.00006,0.00007,0.00008,0.00009,0.0001,0.0002,0.0003,0.0004,0.0005,0.0006,0.0007,0.0008,0.0009,0.001,0.002,0.003,0.004,0.005,0.006,0.007,0.008,0.009,0.01],"labelOverlap":false,"labelFlush":false,"labelExpr":"abs(log(datum.value)/LN10-round(log(datum.value)/LN10))<0.01 ? '10'+(round(log(datum.value)/LN10)==-5?'⁻⁵':round(log(datum.value)/LN10)==-4?'⁻⁴':round(log(datum.value)/LN10)==-3?'⁻³':'⁻²') : ''","tickSize":{"condition":{"test":"abs(log(datum.value)/LN10-round(log(datum.value)/LN10))<0.01","value":3.5},"value":2},"gridOpacity":{"condition":{"test":"abs(log(datum.value)/LN10-round(log(datum.value)/LN10))<0.01","value":1},"value":0}}},
"y":{"field":"y","type":"quantitative","scale":{"domain":[-0.9,40.7],"nice":false,"zero":false},"axis":{"title":"Frequency band accuracy, %","values":[0,10,20,30,40]}},
"color":{"field":"b","type":"nominal","title":"Remaining frequency bands","scale":{"domain":["0 (background)","1-8 (low)","9-24 (mid)","25-32 (high)"],"range":["#3a5efc","#84f04c","#f2b02e","#e4131b"]},"legend":{"legendX":113,"legendY":386,"symbolType":"M-1,0H1M0.1,0A0.1,0.1,0,1,1,-0.1,0A0.1,0.1,0,1,1,0.1,0M0.045,0A0.045,0.045,0,1,1,-0.045,0A0.045,0.045,0,1,1,0.045,0"}}}}]},
{"width":206,"height":114,"title":"Fine-tuning with FLR=1e-4","layer":[
{"data":{"values":[{"x":0.0001}]},"mark":{"type":"rule","color":"black","strokeWidth":1.5,"strokeDash":[7,2.5]},"encoding":{"x":{"field":"x","type":"quantitative","scale":{"type":"log","domain":[0.00000794,0.01259],"nice":false}}}},
{"data":{"values":[{"x":0.001}]},"mark":{"type":"rule","color":"black","strokeWidth":2,"strokeDash":[1.5,2]},"encoding":{"x":{"field":"x","type":"quantitative","scale":{"type":"log","domain":[0.00000794,0.01259],"nice":false}}}},
{"data":{"name":"c100f4"},"mark":{"type":"line","strokeWidth":1.5,"point":{"filled":true,"size":16}},"encoding":{
"x":{"field":"x","type":"quantitative","scale":{"type":"log","domain":[0.00000794,0.01259],"nice":false},"axis":{"title":"PLR","titlePadding":5,"values":[0.00001,0.00002,0.00003,0.00004,0.00005,0.00006,0.00007,0.00008,0.00009,0.0001,0.0002,0.0003,0.0004,0.0005,0.0006,0.0007,0.0008,0.0009,0.001,0.002,0.003,0.004,0.005,0.006,0.007,0.008,0.009,0.01],"labelOverlap":false,"labelFlush":false,"labelExpr":"abs(log(datum.value)/LN10-round(log(datum.value)/LN10))<0.01 ? '10'+(round(log(datum.value)/LN10)==-5?'⁻⁵':round(log(datum.value)/LN10)==-4?'⁻⁴':round(log(datum.value)/LN10)==-3?'⁻³':'⁻²') : ''","tickSize":{"condition":{"test":"abs(log(datum.value)/LN10-round(log(datum.value)/LN10))<0.01","value":3.5},"value":2},"gridOpacity":{"condition":{"test":"abs(log(datum.value)/LN10-round(log(datum.value)/LN10))<0.01","value":1},"value":0}}},
"y":{"field":"y","type":"quantitative","scale":{"domain":[-0.9,40.7],"nice":false,"zero":false},"axis":{"title":"Frequency band accuracy, %","values":[0,10,20,30,40]}},
"color":{"field":"b","type":"nominal","title":"Remaining frequency bands","scale":{"domain":["0 (background)","1-8 (low)","9-24 (mid)","25-32 (high)"],"range":["#3a5efc","#84f04c","#f2b02e","#e4131b"]},"legend":{"legendX":113,"legendY":386,"symbolType":"M-1,0H1M0.1,0A0.1,0.1,0,1,1,-0.1,0A0.1,0.1,0,1,1,0.1,0M0.045,0A0.045,0.045,0,1,1,-0.045,0A0.045,0.045,0,1,1,0.045,0"}}}}]}
]}
],
"config":{
"font":"DejaVu Sans",
"view":{"stroke":"#262626","strokeWidth":1},
"axis":{"domain":false,"tickColor":"#262626","labelColor":"#262626","titleColor":"#262626","labelFontSize":9,"titleFontSize":10,"titleFontWeight":"normal","gridColor":"#dcdcdc","gridWidth":1.5,"labelFont":"DejaVu Sans","titleFont":"DejaVu Sans","tickSize":3.5,"labelPadding":2,"titlePadding":2},
"axisX":{"labelFontSize":8.5},
"title":{"fontSize":14,"fontWeight":"normal","color":"black","font":"DejaVu Sans","anchor":"middle","frame":"group","offset":-7.5},
"legend":{"orient":"none","direction":"horizontal","columns":4,"titleAnchor":"middle","titleFontSize":16.5,"titleFontWeight":"normal","titleColor":"black","titleLimit":800,"labelLimit":400,"labelFontSize":16.5,"labelColor":"black","labelFont":"DejaVu Sans","titleFont":"DejaVu Sans","symbolSize":1296,"symbolStrokeWidth":2,"labelOffset":12,"columnPadding":30,"padding":6,"strokeColor":"#cccccc","cornerRadius":4,"fillColor":"white","titlePadding":0,"rowPadding":4}
}
}
